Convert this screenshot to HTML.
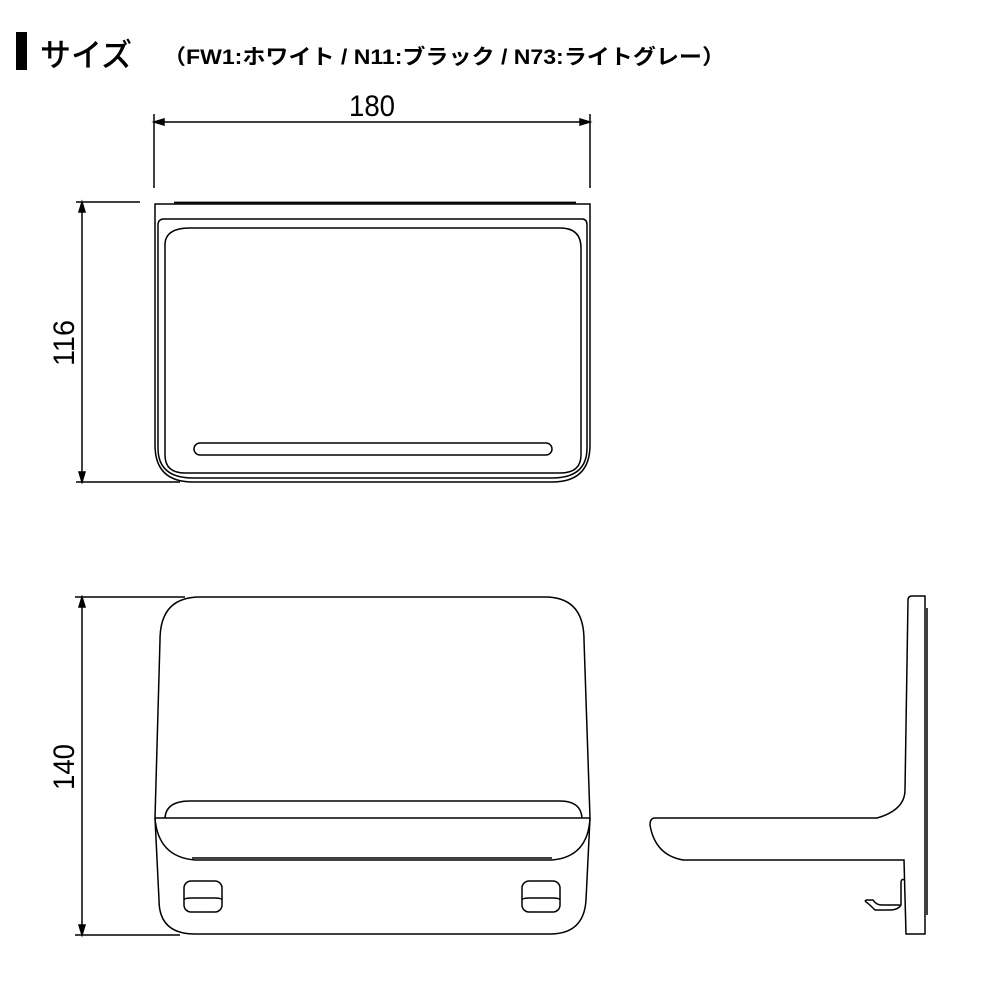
<!DOCTYPE html>
<html><head><meta charset="utf-8"><style>
html,body{margin:0;padding:0;background:#fff;width:1000px;height:1000px;overflow:hidden}
</style></head><body>
<svg width="1000" height="1000" viewBox="0 0 1000 1000" xmlns="http://www.w3.org/2000/svg">
<rect x="16" y="32" width="11" height="38" fill="#000"/>
<text x="40" y="66" font-family="'Liberation Sans','Noto Sans CJK JP',sans-serif" font-size="32" font-weight="500" textLength="92" lengthAdjust="spacingAndGlyphs">サイズ</text>
<text x="163" y="64" font-family="'Liberation Sans','Noto Sans CJK JP',sans-serif" font-size="21" font-weight="bold" textLength="562" lengthAdjust="spacingAndGlyphs">（FW1:ホワイト / N11:ブラック / N73:ライトグレー）</text>

<g stroke="#000" fill="none" stroke-width="1.5">
<line x1="154" y1="114" x2="154" y2="188"/><line x1="590" y1="114" x2="590" y2="188"/>
<line x1="156" y1="122" x2="588" y2="122"/>
<path d="M154 122 l10 -3 v6z M590 122 l-10 -3 v6z" fill="#000"/>
<line x1="76" y1="202" x2="140" y2="202"/><line x1="76" y1="482" x2="180" y2="482"/>
<line x1="82" y1="204" x2="82" y2="480"/>
<path d="M82 202 l-3 10 h6z M82 482 l-3 -10 h6z" fill="#000"/>
<line x1="75" y1="597" x2="185" y2="597"/><line x1="75" y1="935" x2="180" y2="935"/>
<line x1="82" y1="599" x2="82" y2="933"/>
<path d="M82 597 l-3 10 h6z M82 935 l-3 -10 h6z" fill="#000"/>

<path d="M174 202.5 L576 202.5" stroke-width="1.8"/>
<path d="M155 204 H590 V445 Q590 482 552 482 H193 Q155 482 155 445 Z"/>
<path d="M158 225 Q158 219 164 219 H582 Q587 219 587 225 V448 Q587 478 552 478 H193 Q158 478 158 448 Z"/>
<path d="M165 245 Q165 228 190 228 H560 Q581 228 581 248 V455 Q581 473 560 473 H185 Q165 473 165 455 Z"/>
<rect x="194" y="443" width="358" height="12" rx="6"/>

<path d="M200 597 H545 Q584 597 584 640 L590 818 L586 900 Q584 934 550 934 H195 Q159 934 159 900 L155 818 L160 640 Q160 597 200 597 Z"/>
<line x1="155" y1="818" x2="590" y2="818"/>
<path d="M165 818 Q166 801 190 801 H560 Q581 801 582 818"/>
<path d="M155 818 Q158 857 195 860 H552 Q588 857 590 818"/>
<line x1="192" y1="858" x2="552" y2="858"/>
<rect x="184" y="881" width="38" height="31" rx="7"/>
<path d="M184 900 Q184 898 192 898 H214 Q222 898 222 900"/>
<rect x="522" y="881" width="38" height="31" rx="7"/>
<path d="M522 900 Q522 898 530 898 H552 Q560 898 560 900"/>

<path d="M908 600 Q908 596 912 596 H925 V934 H910 L906 934 L904 860 H683 Q655 855 650 825 Q650 818 655 818 H877 Q905 810 905 790 Z"/>
<line x1="927" y1="608" x2="927" y2="915"/>
<path d="M904 880 Q902 878 901 882 L901 905 Q898 910 890 910 H875 Q868 903 866 902 Q864 900 868 900 L873 900 Q876 905 882 905 H900"/>
</g>
<g font-family="'Liberation Sans',sans-serif" font-size="30" fill="#000">
<text x="349" y="116" textLength="46" lengthAdjust="spacingAndGlyphs">180</text>
<text transform="translate(74 366) rotate(-90)" textLength="46" lengthAdjust="spacingAndGlyphs">116</text>
<text transform="translate(74 790) rotate(-90)" textLength="46" lengthAdjust="spacingAndGlyphs">140</text>
</g>
</svg>
</body></html>
